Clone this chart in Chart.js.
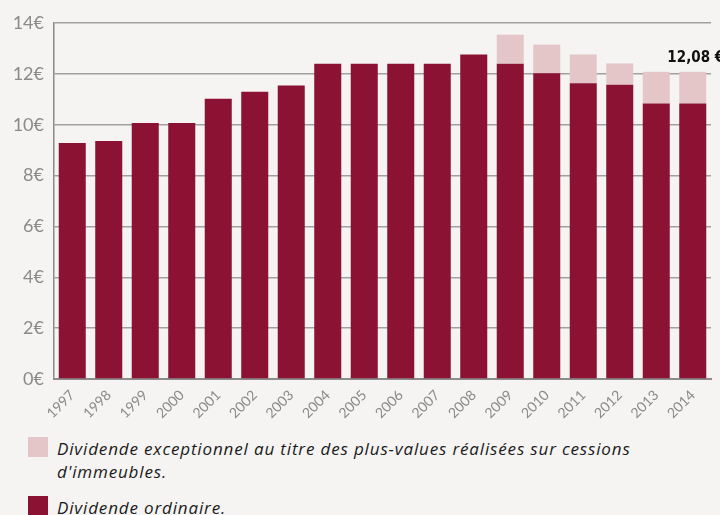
<!DOCTYPE html>
<html><head><meta charset="utf-8">
<script src="https://cdn.jsdelivr.net/npm/chart.js@4.4.1/dist/chart.umd.min.js"></script>
<style>
html,body{margin:0;padding:0;background:#f5f4f2;width:720px;height:515px;overflow:hidden;}
#wrap{position:absolute;left:0;top:0;width:720px;height:425px;}
.leg{position:absolute;left:28px;font-family:"Open Sans","Lato",sans-serif;font-style:italic;font-size:17px;line-height:23px;letter-spacing:0.85px;color:#1a1a1a;}
.sw{position:absolute;left:0;top:0px;width:20px;height:20px;}
.tx{position:absolute;left:29px;top:0;white-space:nowrap;}
</style></head>
<body>
<div id="wrap"><canvas id="c" width="720" height="425"></canvas></div>
<div class="leg" style="top:437px;"><div class="sw" style="background:#e4c6c8"></div><div class="tx">Dividende exceptionnel au titre des plus-values réalisées sur cessions<br>d'immeubles.</div></div>
<div class="leg" style="top:496px;"><div class="sw" style="background:#8b1233"></div><div class="tx">Dividende ordinaire.</div></div>
<script>
const years = ["1997","1998","1999","2000","2001","2002","2003","2004","2005","2006","2007","2008","2009","2010","2011","2012","2013","2014"];
const ordinaire = [9.28,9.36,10.07,10.07,11.02,11.30,11.54,12.40,12.40,12.40,12.40,12.76,12.40,12.02,11.63,11.57,10.83,10.83];
const exceptionnel = [0,0,0,0,0,0,0,0,0,0,0,0,1.14,1.13,1.13,0.84,1.25,1.25];
const yTicks = [0,2,4,6,8,10,12,14];
const lastLabel = "12,08 €";

const labelPlugin = {
  id:'lastLabel',
  afterDatasetsDraw(chart){
    const ctx = chart.ctx;
    const meta = chart.getDatasetMeta(1);
    const bar = meta.data[meta.data.length-1];
    ctx.save();
    ctx.font = 'bold 15px "Liberation Sans Narrow","DejaVu Sans Condensed",sans-serif';
    ctx.fillStyle = '#111';
    ctx.textAlign = 'center';
    ctx.textBaseline = 'alphabetic';
    ctx.fillText(lastLabel, bar.x+3, bar.y-10);
    ctx.restore();
  }
};

new Chart(document.getElementById('c'), {
  type:'bar',
  data:{labels:years, datasets:[
    {label:'Dividende ordinaire.', data:ordinaire, backgroundColor:'#8b1233', barPercentage:0.74, categoryPercentage:1},
    {label:"Dividende exceptionnel", data:exceptionnel, backgroundColor:'#e4c6c8', barPercentage:0.74, categoryPercentage:1}
  ]},
  options:{
    responsive:false, animation:false,
    layout:{padding:{top:23,right:9,left:0,bottom:0}},
    plugins:{legend:{display:false},tooltip:{enabled:false}},
    scales:{
      x:{stacked:true,
        grid:{display:false, drawTicks:false},
        border:{color:'#8c8c8c', width:2},
        ticks:{color:'#8a8a8a', font:{family:'Lato', size:14}, maxRotation:45, minRotation:45, padding:8, autoSkip:false},
        afterFit(s){ s.height = 46; }
      },
      y:{stacked:true, min:0, max:14,
        afterBuildTicks(s){ s.ticks = yTicks.map(v=>({value:v})); },
        grid:{color:'#a0a0a0', lineWidth:1.5, drawTicks:false},
        border:{color:'#8c8c8c', width:1.5},
        ticks:{color:'#8a8a8a', font:{family:'Lato', size:18}, padding:10, callback:v=>v+'€'},
        afterFit(s){ s.width = 54; }
      }
    }
  },
  plugins:[labelPlugin]
});
</script>
</body></html>
